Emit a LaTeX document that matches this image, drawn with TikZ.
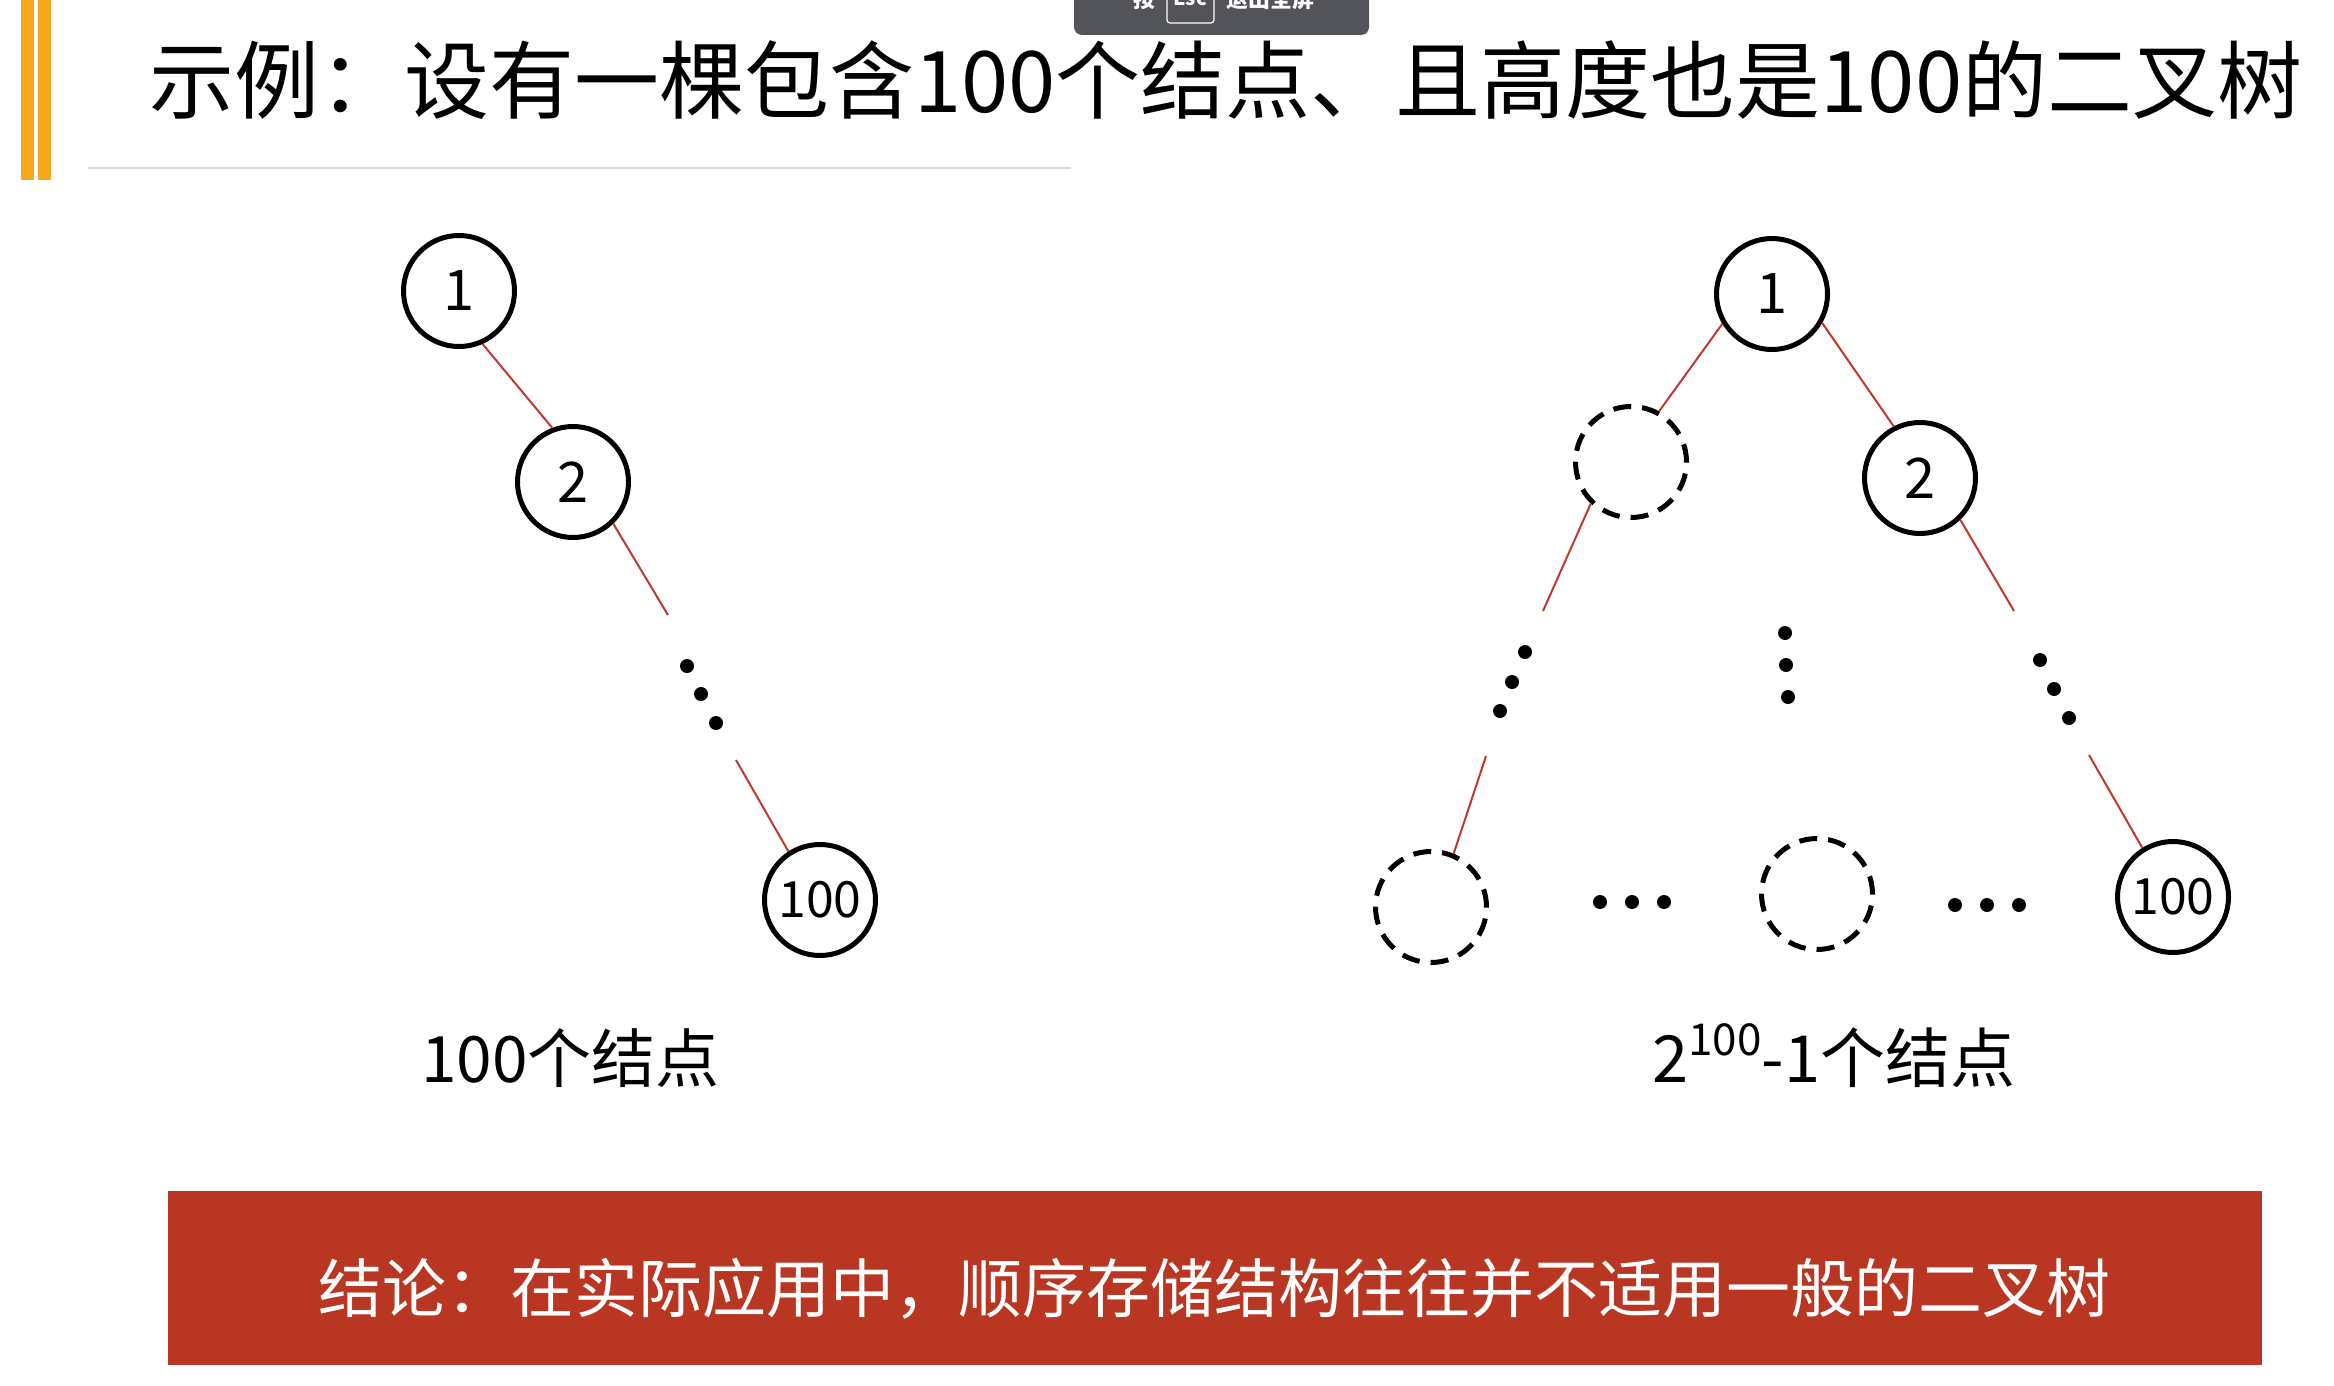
\documentclass[tikz,border=0pt]{standalone}
\usepackage{fontspec}
\setmainfont{Noto Sans CJK SC}
\definecolor{edgered}{RGB}{192,57,43}
\definecolor{bannerred}{RGB}{185,54,34}
\definecolor{goldbar}{RGB}{245,168,28}
\definecolor{overlaygray}{RGB}{82,84,89}
\definecolor{rulegray}{RGB}{217,217,217}
\begin{document}
\begin{tikzpicture}[x=1pt,y=-1pt,
  tnode/.style={circle,draw=black,line width=5pt,minimum size=111pt,inner sep=0pt,font=\fontsize{56}{56}\selectfont},
  enode/.style={circle,draw=black,line width=5pt,minimum size=111pt,inner sep=0pt,dash pattern=on 18pt off 11pt},
  link/.style={draw=edgered,line width=2pt},
  bigdot/.style={fill=black,circle,inner sep=0pt,minimum size=14pt},
  plain/.style={inner sep=0pt,anchor=base west}]
\fill[white] (0,0) rectangle (2334,1386);
\useasboundingbox (0,0) rectangle (2334,1386);
% gold bars
\fill[goldbar] (21,0) rectangle (34,180);
\fill[goldbar] (38,0) rectangle (51,180);
% title
\node[plain,font=\fontsize{85}{100}\selectfont] (title) at (149,113) {示例：设有一棵包含100个结点、且高度也是100的二叉树};
\draw[rulegray,line width=2pt] (88,168) -- (1071,168);
% overlay
\fill[overlaygray,rounded corners=8pt] (1074,-30) rectangle (1369,35);
\node[plain,text=white,font=\fontsize{22}{22}\selectfont\bfseries] (ov1) at (1133,8) {按};
\draw[white,line width=1.2pt,rounded corners=3pt] (1167,-10) rectangle (1214,23);
\node[anchor=base,inner sep=0pt,text=white,font=\fontsize{20}{20}\selectfont\bfseries] (ov2) at (1190,6) {Esc};
\node[plain,text=white,font=\fontsize{22}{22}\selectfont\bfseries] (ov3) at (1226,8) {退出全屏};
% left tree
\node[tnode] (a1) at (459,291) {1};
\node[tnode] (a2) at (573,482) {2};
\node[tnode,font=\fontsize{50}{50}\selectfont] (a100) at (820,900) {100};
\coordinate (ac1) at (668,615);
\coordinate (ac2) at (736,760);
\node[bigdot] (ad1) at (687,666) {};
\node[bigdot] (ad2) at (701,694) {};
\node[bigdot] (ad3) at (716,723) {};
\draw[link] (a1.-66) -- (a2.111);
\draw[link] (a2.-46) -- (ac1);
\draw[link] (ac2) -- (a100.123);
\node[plain,font=\fontsize{64}{70}\selectfont] (lab1) at (421,1082) {100个结点};
% right tree
\node[tnode] (b1) at (1772,294) {1};
\node[enode] (e1) at (1631,462) {};
\node[tnode] (b2) at (1920,478) {2};
\node[enode] (e2) at (1431,907) {};
\node[enode] (e3) at (1817,894) {};
\node[tnode,font=\fontsize{50}{50}\selectfont] (b100) at (2173,897) {100};
\coordinate (bc1) at (1543,611);
\coordinate (bc2) at (2014,611);
\coordinate (bc3) at (1486,756);
\coordinate (bc4) at (2089,755);
\draw[link] (b1.211) -- (e1.61);
\draw[link] (b1.-30) -- (b2.117);
\draw[link] (e1.226) -- (bc1);
\draw[link] (b2.-46) -- (bc2);
\draw[link] (bc3) -- (e2.67);
\draw[link] (bc4) -- (b100.122);
\node[bigdot] (bl1) at (1525,652) {};
\node[bigdot] (bl2) at (1512,682) {};
\node[bigdot] (bl3) at (1500,711) {};
\node[bigdot] (bm1) at (1785,633) {};
\node[bigdot] (bm2) at (1786,665) {};
\node[bigdot] (bm3) at (1788,697) {};
\node[bigdot] (br1) at (2040,660) {};
\node[bigdot] (br2) at (2054,689) {};
\node[bigdot] (br3) at (2069,718) {};
\node[bigdot] (bh1) at (1600,902) {};
\node[bigdot] (bh2) at (1632,902) {};
\node[bigdot] (bh3) at (1664,902) {};
\node[bigdot] (bk1) at (1955,905) {};
\node[bigdot] (bk2) at (1987,905) {};
\node[bigdot] (bk3) at (2019,905) {};
\node[plain,font=\fontsize{65}{70}\selectfont] (lab2) at (1652,1082) {2\raisebox{27pt}{\fontsize{44}{44}\selectfont 100}-1个结点};
% banner
\fill[bannerred] (168,1191) rectangle (2262,1365);
\node[anchor=base,inner sep=0pt,text=white,font=\fontsize{64}{70}\selectfont] (concl) at (1214,1312) {结论：在实际应用中，顺序存储结构往往并不适用一般的二叉树};
\end{tikzpicture}
\end{document}
